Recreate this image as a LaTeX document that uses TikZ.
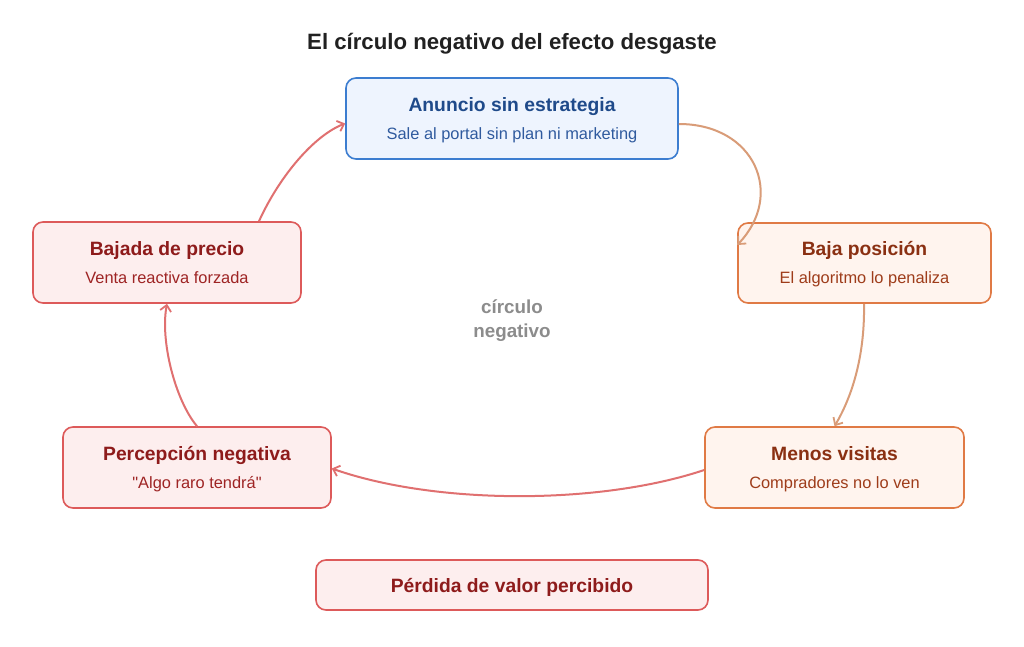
\documentclass[tikz,border=0pt]{standalone}
\usepackage{fontspec}
\setmainfont{Liberation Sans}[Ligatures=TeXOff]
\usetikzlibrary{arrows.meta,calc}
\definecolor{bluebd}{HTML}{3C7DD0}
\definecolor{bluefill}{HTML}{EEF4FE}
\definecolor{bluet}{HTML}{1F4A8A}
\definecolor{blues}{HTML}{2F5A9E}
\definecolor{orbd}{HTML}{E07A45}
\definecolor{orfill}{HTML}{FFF4EE}
\definecolor{ort}{HTML}{8A3012}
\definecolor{ors}{HTML}{9E3C1A}
\definecolor{redbd}{HTML}{DD5A5A}
\definecolor{redfill}{HTML}{FDEEEE}
\definecolor{redt}{HTML}{8E1B1B}
\definecolor{reds}{HTML}{9E2424}
\definecolor{arrtan}{HTML}{D99C78}
\definecolor{arrred}{HTML}{E07070}
\definecolor{midgray}{HTML}{8C8C8C}
\begin{document}
\begin{tikzpicture}[x=1pt,y=-1pt,
  box/.style={draw, rounded corners=10pt, line width=1.6pt, inner sep=0pt},
  bluebox/.style={box, draw=bluebd, fill=bluefill},
  orbox/.style={box, draw=orbd, fill=orfill},
  redbox/.style={box, draw=redbd, fill=redfill},
  ttl/.style={anchor=base, inner sep=0pt, font=\bfseries\fontsize{19.3}{22}\selectfont},
  sub/.style={anchor=base, inner sep=0pt, font=\fontsize{16.4}{19}\selectfont},
  conn/.style={line width=2pt, -{Straight Barb[length=6pt,width=11pt,line width=1.8pt]}},
]
\useasboundingbox (0,0) rectangle (1024,647);
\fill[white] (0,0) rectangle (1024,647);

\node[anchor=base, inner sep=0pt, text=black!87, font=\bfseries\fontsize{22.2}{26}\selectfont] (title) at (512,50) {El círculo negativo del efecto desgaste};

% boxes
\node[bluebox, minimum width=332pt, minimum height=81pt] (anuncio) at (512,118.5) {};
\node[ttl, text=bluet] (anuncioT) at (512,111.5) {Anuncio sin estrategia};
\node[sub, text=blues] (anuncioS) at (512,139.2) {Sale al portal sin plan ni marketing};

\node[orbox, minimum width=253pt, minimum height=80pt] (baja) at (864.5,263) {};
\node[ttl, text=ort] (bajaT) at (864.5,255.8) {Baja posición};
\node[sub, text=ors] (bajaS) at (864.5,283.4) {El algoritmo lo penaliza};

\node[orbox, minimum width=259pt, minimum height=81pt] (menos) at (834.5,467.5) {};
\node[ttl, text=ort] (menosT) at (834.5,460.4) {Menos visitas};
\node[sub, text=ors] (menosS) at (834.5,488) {Compradores no lo ven};

\node[redbox, minimum width=268pt, minimum height=81pt] (perc) at (197,467.5) {};
\node[ttl, text=redt] (percT) at (197,460.4) {Percepción negativa};
\node[sub, text=reds] (percS) at (197,488) {"Algo raro tendrá"};

\node[redbox, minimum width=268pt, minimum height=81pt] (bajada) at (167,262.5) {};
\node[ttl, text=redt] (bajadaT) at (167,255.4) {Bajada de precio};
\node[sub, text=reds] (bajadaS) at (167,283) {Venta reactiva forzada};

\node[redbox, minimum width=392pt, minimum height=50pt] (perdida) at (512,585) {};
\node[ttl, text=redt] (perdidaT) at (512,592.5) {Pérdida de valor percibido};

\node[anchor=base, inner sep=0pt, text=midgray, font=\bfseries\fontsize{18.8}{22}\selectfont] (c1) at (512,313) {círculo};
\node[anchor=base, inner sep=0pt, text=midgray, font=\bfseries\fontsize{18.8}{22}\selectfont] (c2) at (512,337) {negativo};

% connectors
\draw[conn, arrtan] ($(anuncio.east)+(0,5.5)$) .. controls (755,124) and (785,195) .. ($(baja.west)+(0,-18)$);
\draw[conn, arrtan] ($(baja.south)+(-0.5,0)$) .. controls (865,360) and (850,400) .. (menos.north);
\draw[conn, arrred] ($(menos.west)+(0,2.5)$) .. controls (600,505) and (436,505) .. ($(perc.east)+(0,1)$);
\draw[conn, arrred] (perc.north) .. controls (175,400) and (160,340) .. (bajada.south);
\draw[conn, arrred] ($(bajada.north)+(92,0)$) .. controls (280,175) and (315,135) .. ($(anuncio.west)+(0,5)$);
\end{tikzpicture}
\end{document}
